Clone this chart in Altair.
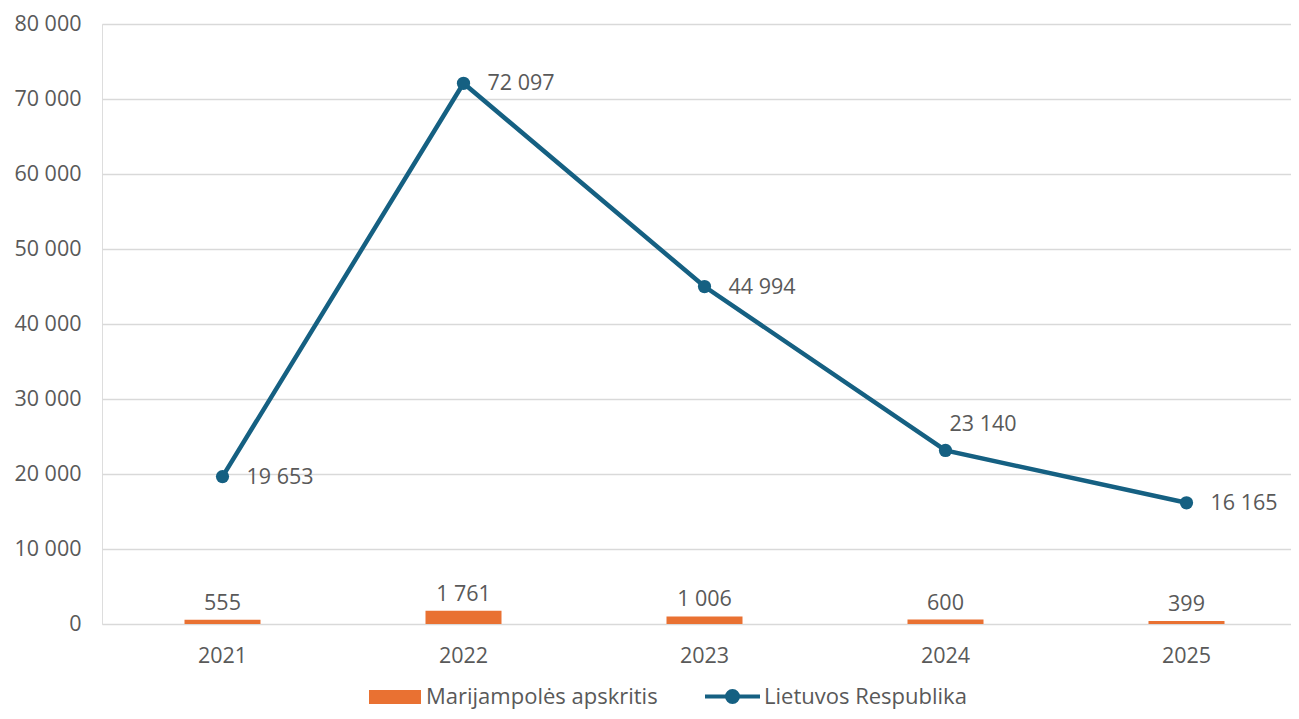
import altair as alt
import pandas as pd

years = ["2021", "2022", "2023", "2024", "2025"]
marijampole = [555, 1761, 1006, 600, 399]
lietuva = [19653, 72097, 44994, 23140, 16165]
series_bar = "Marijampolės apskritis"
series_line = "Lietuvos Respublika"

ORANGE = "#E97132"
BLUE = "#156082"
TXT = "#595959"
FONT = "Open Sans"
FS = 21.5
LFS = 22


def fmt(v):
    return f"{v:,}".replace(",", " ")


bars_df = pd.DataFrame({"year": years, "value": marijampole, "series": series_bar,
                        "label": [fmt(v) for v in marijampole]})
line_df = pd.DataFrame({"year": years, "value": lietuva, "series": series_line,
                        "label": [fmt(v) for v in lietuva]})

x = alt.X("year:N", title=None,
          scale=alt.Scale(paddingInner=0, paddingOuter=0, range=[0, 1205]),
          axis=alt.Axis(labelAngle=0, domain=False, ticks=False, labelPadding=21,
                        labelFontSize=FS, labelColor=TXT, labelFont=FONT, grid=False))
y = alt.Y("value:Q", title=None,
          scale=alt.Scale(domain=[0, 80000], nice=False),
          axis=alt.Axis(values=list(range(0, 80001, 10000)), domain=False, ticks=False,
                        labelPadding=21, labelFontSize=FS, labelColor=TXT, labelFont=FONT,
                        gridColor="#D9D9D9", gridWidth=1.5,
                        labelExpr="replace(format(datum.value, ','), ',', ' ')"))

bar_path = "M-1,-0.27L1,-0.27L1,0.27L-1,0.27Z"
line_path = "M-1,0L1,0M0.2,0A0.2,0.2,0,1,1,-0.2,0A0.2,0.2,0,1,1,0.2,0Z"

bars = alt.Chart(bars_df).mark_bar(size=76).encode(
    x=x, y=y,
    fill=alt.Fill("series:N",
                  scale=alt.Scale(domain=[series_bar], range=[ORANGE]),
                  legend=alt.Legend(title=None, orient="none", legendX=267, legendY=647,
                                    symbolType=bar_path, symbolSize=2704,
                                    symbolStrokeWidth=0, labelFontSize=LFS,
                                    labelColor=TXT, labelFont=FONT, labelOffset=5,
                                    labelLimit=400))
)
bar_labels = alt.Chart(bars_df).mark_text(baseline="bottom", dy=-5, fontSize=FS,
                                          color=TXT, font=FONT).encode(
    x=x, y=y, text="label:N")

line = alt.Chart(line_df).mark_line(strokeWidth=4.5).encode(
    x=x, y=y,
    stroke=alt.Stroke("series:N",
                      scale=alt.Scale(domain=[series_line], range=[BLUE]),
                      legend=alt.Legend(title=None, orient="none", legendX=601, legendY=643,
                                        symbolType=line_path, symbolSize=3025,
                                        symbolStrokeWidth=4, symbolFillColor=BLUE,
                                        labelFontSize=LFS, labelColor=TXT, labelFont=FONT,
                                        labelOffset=2, labelLimit=400))
)
points = alt.Chart(line_df).mark_circle(size=175, opacity=1, color=BLUE).encode(x=x, y=y)

line_labels = alt.Chart(line_df).transform_filter("datum.year != '2024'").mark_text(
    align="left", baseline="middle", dx=24, dy=1, fontSize=FS, color=TXT, font=FONT
).encode(x=x, y=y, text="label:N")
line_label_2024 = alt.Chart(line_df).transform_filter("datum.year == '2024'").mark_text(
    align="left", baseline="middle", dx=4, dy=-25, fontSize=FS, color=TXT, font=FONT
).encode(x=x, y=y, text="label:N")

chart = alt.layer(bars, bar_labels, line, points, line_labels, line_label_2024).resolve_scale(
    fill="independent", stroke="independent"
).properties(
    width=1189, height=600,
    autosize=alt.AutoSizeParams(type="none"),
    padding={"left": 94, "top": 16, "right": 0, "bottom": 87},
).configure_view(stroke=None).configure(background="white")

chart.save("out.html", embed_options={"renderer": "svg", "actions": False})
